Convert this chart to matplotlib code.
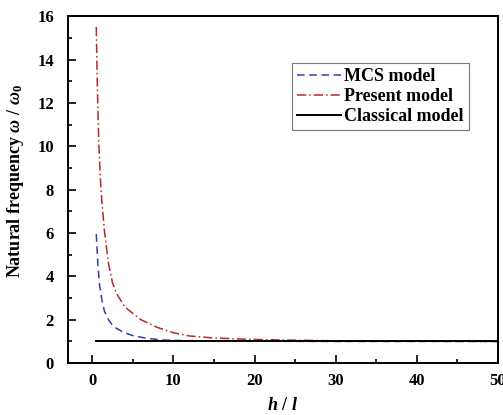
import matplotlib
matplotlib.use("Agg")
import matplotlib.pyplot as plt
from matplotlib.ticker import MultipleLocator

plt.rcParams['font.family'] = ['Liberation Serif', 'DejaVu Serif']
plt.rcParams['font.weight'] = 'bold'
plt.rcParams['mathtext.fontset'] = 'custom'
plt.rcParams['mathtext.it'] = 'Liberation Serif:italic:bold'
plt.rcParams['mathtext.rm'] = 'Liberation Serif:bold'
plt.rcParams['mathtext.bf'] = 'Liberation Serif:bold'

# Data
mcs_x = [0.5, 0.7, 0.9, 1.2, 1.5, 2.0, 2.5, 3.0, 4.0, 5.0, 6.5, 8.5, 11, 15, 20, 30, 40, 50]
mcs_y = [5.95, 4.5, 3.6, 2.9, 2.4, 2.0, 1.75, 1.6, 1.4, 1.27, 1.16, 1.07, 1.04, 1.02, 1.01, 1.0, 1.0, 1.0]

pre_x = [0.5, 0.6, 0.8, 1.0, 1.2, 1.5, 2.0, 2.5, 3.0, 4.0, 4.5, 6.0, 8.0, 10, 12, 15, 19, 23, 30, 40, 50]
pre_y = [15.5, 13.2, 10.2, 8.5, 7.4, 6.1, 4.6, 3.7, 3.2, 2.6, 2.44, 2.0, 1.65, 1.4, 1.25, 1.16, 1.1, 1.07, 1.03, 1.01, 1.0]

cls_x = [0.5, 50]
cls_y = [1.0, 1.0]

labels = ['MCS model', 'Present model', 'Classical model']

fig = plt.figure(figsize=(5.03, 4.15), dpi=100)
ax = fig.add_axes([0.135, 0.125, 0.855, 0.836])

ax.plot(mcs_x, mcs_y, color='#3a3aa8', linestyle=(0, (5, 3)), lw=1.1, label=labels[0])
ax.plot(pre_x, pre_y, color='#b52a2a', linestyle=(0, (6, 2, 1, 2)), lw=1.1, label=labels[1])
ax.plot(cls_x, cls_y, color='black', linestyle='-', lw=1.4, label=labels[2])

ax.set_xlim(-3, 50)
ax.set_ylim(0, 16)
ax.xaxis.set_major_locator(MultipleLocator(10))
ax.xaxis.set_minor_locator(MultipleLocator(5))
ax.yaxis.set_major_locator(MultipleLocator(2))
ax.yaxis.set_minor_locator(MultipleLocator(1))
ax.tick_params(which='both', direction='in', top=False, right=False, width=1.2)
ax.tick_params(which='major', length=6, labelsize=12)
ax.tick_params(axis='y', which='major', pad=10)
ax.tick_params(axis='x', which='major', pad=7)
ax.tick_params(which='minor', length=3)
for s in ax.spines.values():
    s.set_linewidth(1.4)
for lab in ax.get_xticklabels() + ax.get_yticklabels():
    lab.set_fontweight('bold')

ax.set_xlabel(r'$h\ /\ l$', fontsize=13)
ax.xaxis.set_label_coords(0.5, -0.098)
ax.set_ylabel(r'Natural frequency $\omega\ /\ \omega_0$', fontsize=13, fontweight='bold')
ax.yaxis.set_label_coords(-0.097, 0.525)

leg = ax.legend(loc='upper right', bbox_to_anchor=(0.933, 0.865), fontsize=13,
                frameon=True, fancybox=False, handlelength=2.4, handletextpad=0.2,
                borderpad=0.3, labelspacing=0.15, borderaxespad=0)
leg.get_frame().set_edgecolor('#555555')
leg.get_frame().set_linewidth(0.8)
for t in leg.get_texts():
    t.set_fontweight('bold')

fig.savefig('out.png', dpi=100)
